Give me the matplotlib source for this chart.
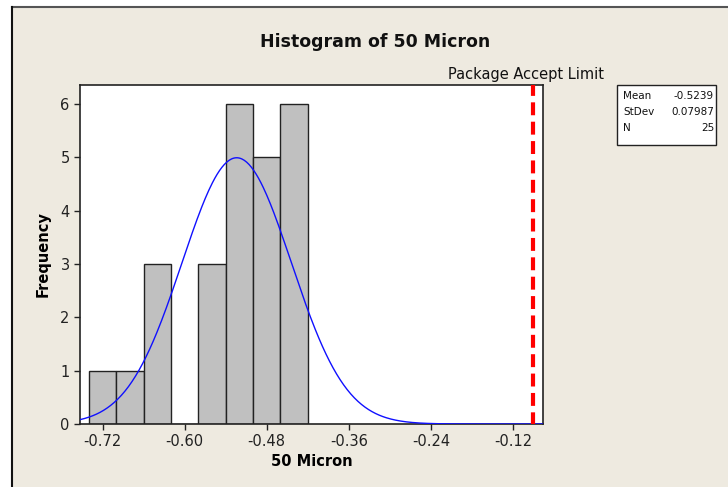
import numpy as np
import matplotlib.pyplot as plt
from matplotlib.patches import Rectangle

# bin centres and counts
bin_centers = [-0.72, -0.68, -0.64, -0.60, -0.56, -0.52, -0.48, -0.44]
counts = [1, 1, 3, 0, 3, 6, 5, 6]
bin_width = 0.04

mean = -0.5239
stdev = 0.07987
n = 25
accept_limit = -0.09

x_ticks = [-0.72, -0.60, -0.48, -0.36, -0.24, -0.12]
x_tick_labels = ["-0.72", "-0.60", "-0.48", "-0.36", "-0.24", "-0.12"]

W, H = 728, 487
fig = plt.figure(figsize=(W / 100, H / 100), dpi=100, facecolor="white")

# beige panel with dark top/left edge
fig.patches.append(Rectangle((11 / W, 0), 1, 1 - 6.5 / H, transform=fig.transFigure,
                             facecolor="#EEEAE0", edgecolor="none", zorder=-1))
fig.add_artist(plt.Line2D([11.5 / W, 1], [1 - 6.5 / H, 1 - 6.5 / H], transform=fig.transFigure,
                          color="#555555", lw=1.5))
fig.add_artist(plt.Line2D([11.5 / W, 11.5 / W], [0, 1 - 6.5 / H], transform=fig.transFigure,
                          color="#111111", lw=1.5))

ax = fig.add_axes([80 / W, 1 - 424 / H, (543 - 80) / W, (424 - 85) / H])
ax.set_zorder(5)
ax.set_facecolor("white")

ax.bar(bin_centers, counts, width=bin_width, color="#C0C0C0", edgecolor="#222222", linewidth=1.0, zorder=2)

xs = np.linspace(-0.76, -0.07, 400)
pdf = n * bin_width * np.exp(-0.5 * ((xs - mean) / stdev) ** 2) / (stdev * np.sqrt(2 * np.pi))
ax.plot(xs, pdf, color="#1010FF", lw=1.0, zorder=3)

ax.axvline(accept_limit, color="#FF0000", lw=3.0, linestyle=(0.3, (3.1, 1.55)), zorder=4)

ax.set_xlim(-0.753, -0.076)
ax.set_ylim(0, 6.36)
ax.set_xticks(x_ticks)
ax.set_xticklabels(x_tick_labels)
ax.set_yticks(range(0, 7))
ax.tick_params(labelsize=10.5, length=4, width=1, colors="#222222")
for s in ax.spines.values():
    s.set_color("#222222")
    s.set_linewidth(1.2)

ax.set_xlabel("50 Micron", fontsize=10.5, fontweight="bold", labelpad=3)
ax.set_ylabel("Frequency", fontsize=10.5, fontweight="bold", labelpad=7)

fig.text(375 / W, 1 - 42 / H, "Histogram of 50 Micron", ha="center", va="center",
         fontsize=12.5, fontweight="bold", color="#111111")
fig.text(526 / W, 1 - 74 / H, "Package Accept Limit", ha="center", va="center",
         fontsize=10.5, color="#111111")

# stats box
bx0, by0, bx1, by1 = 616.5, 85, 716, 145
fig.patches.append(Rectangle((bx0 / W, 1 - by1 / H), (bx1 - bx0) / W, (by1 - by0) / H,
                             transform=fig.transFigure, facecolor="white", edgecolor="#222222", lw=1))
rows = [("Mean", "-0.5239"), ("StDev", "0.07987"), ("N", str(n))]
for i, (k, v) in enumerate(rows):
    y = 1 - (96 + i * 16) / H
    fig.text(623 / W, y, k, ha="left", va="center", fontsize=7.5, color="#111111")
    fig.text(714 / W, y, v, ha="right", va="center", fontsize=7.5, color="#111111")

fig.savefig("out.png", dpi=100, facecolor=fig.get_facecolor())
